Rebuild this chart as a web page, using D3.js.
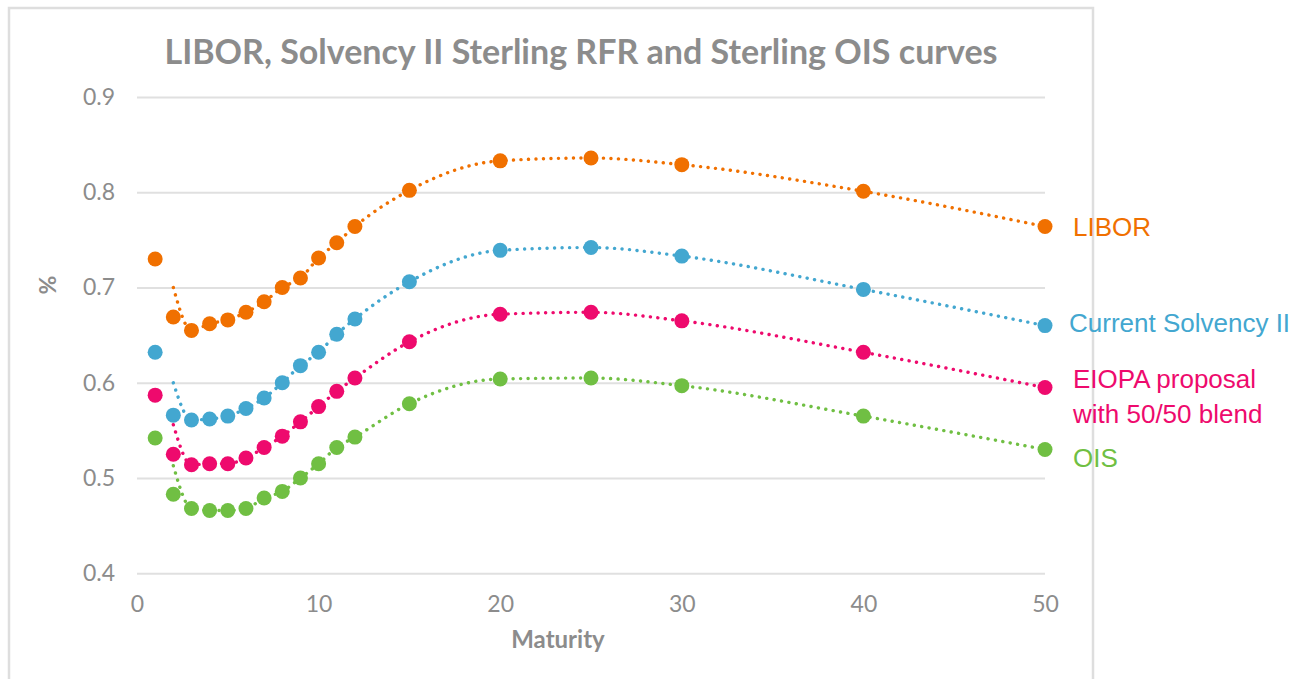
<!DOCTYPE html>
<html>
<head>
<meta charset="utf-8">
<script src="https://cdn.jsdelivr.net/npm/d3@7/dist/d3.min.js"></script>
<style>
  body { margin: 0; background: #fff; }
  svg { display: block; }
</style>
</head>
<body>
<svg id="chart"></svg>
<script>
// data
const maturities = [1, 2, 3, 4, 5, 6, 7, 8, 9, 10, 11, 12, 15, 20, 25, 30, 40, 50];
const libor    = [0.730, 0.669, 0.655, 0.662, 0.666, 0.674, 0.685, 0.700, 0.710, 0.731, 0.747, 0.764, 0.802, 0.833, 0.836, 0.829, 0.801, 0.764];
const solvency = [0.632, 0.566, 0.561, 0.562, 0.565, 0.573, 0.584, 0.600, 0.618, 0.632, 0.651, 0.667, 0.706, 0.739, 0.742, 0.733, 0.698, 0.660];
const eiopa    = [0.587, 0.525, 0.514, 0.515, 0.515, 0.521, 0.532, 0.544, 0.559, 0.575, 0.591, 0.605, 0.643, 0.672, 0.674, 0.665, 0.632, 0.595];
const ois      = [0.542, 0.483, 0.468, 0.466, 0.466, 0.468, 0.479, 0.486, 0.500, 0.515, 0.532, 0.543, 0.578, 0.604, 0.605, 0.597, 0.565, 0.530];

// the dotted smoothed curves start at 2y and don't pass through the 2y markers
const curveMaturities = [2, 3, 4, 5, 6, 7, 8, 9, 10, 11, 12, 15, 20, 25, 30, 40, 50];
const liborCurve    = [0.700, 0.655, 0.662, 0.666, 0.674, 0.685, 0.700, 0.710, 0.731, 0.747, 0.764, 0.802, 0.833, 0.836, 0.829, 0.801, 0.764];
const solvencyCurve = [0.600, 0.561, 0.562, 0.565, 0.573, 0.584, 0.600, 0.618, 0.632, 0.651, 0.667, 0.706, 0.739, 0.742, 0.733, 0.698, 0.660];
const eiopaCurve    = [0.556, 0.514, 0.515, 0.515, 0.521, 0.532, 0.544, 0.559, 0.575, 0.591, 0.605, 0.643, 0.672, 0.674, 0.665, 0.632, 0.595];
const oisCurve      = [0.513, 0.468, 0.466, 0.466, 0.468, 0.479, 0.486, 0.500, 0.515, 0.532, 0.543, 0.578, 0.604, 0.605, 0.597, 0.565, 0.530];

const seriesNames = ['LIBOR', 'Current Solvency II', 'EIOPA proposal\nwith 50/50 blend', 'OIS'];
const xTicks = [0, 10, 20, 30, 40, 50];
const yTicks = [0.4, 0.5, 0.6, 0.7, 0.8, 0.9];

const colors = ['#F07000', '#43A7D0', '#EE0A6D', '#70BF43'];
const labelDx = [28, 24, 28, 28];
const labelDy = [9, 6, 18, 18];

const W = 1311, H = 679;
const grey = '#8c8c8c';

const series = [
  { name: seriesNames[0], values: libor, curve: liborCurve },
  { name: seriesNames[1], values: solvency, curve: solvencyCurve },
  { name: seriesNames[2], values: eiopa, curve: eiopaCurve },
  { name: seriesNames[3], values: ois, curve: oisCurve },
];

const svg = d3.select('#chart').attr('width', W).attr('height', H);
svg.append('rect').attr('width', W).attr('height', H).attr('fill', '#fff');

// chart frame (bottom edge runs off the picture)
svg.append('rect')
  .attr('x', 9).attr('y', 8).attr('width', 1084).attr('height', H + 20)
  .attr('fill', 'none').attr('stroke', '#dedede').attr('stroke-width', 2.5);

const x = d3.scaleLinear().domain([0, 50]).range([137, 1045]);
const y = d3.scaleLinear().domain([0.4, 0.9]).range([573.3, 97]);

// gridlines + y labels
const yAxis = d3.axisLeft(y).tickValues(yTicks).tickSize(-(x.range()[1] - x.range()[0])).tickPadding(22)
  .tickFormat(d3.format('.1f'));
const gy = svg.append('g').attr('transform', `translate(${x.range()[0]},0)`).call(yAxis);
gy.select('.domain').remove();
gy.selectAll('.tick line').attr('stroke', '#e0e0e0').attr('stroke-width', 2);
gy.selectAll('.tick text').attr('fill', grey).attr('font-family', 'Lato, sans-serif').attr('font-size', 23);

const xAxis = d3.axisBottom(x).tickValues(xTicks).tickSize(0).tickPadding(22).tickFormat(d3.format('d'));
const gx = svg.append('g').attr('transform', `translate(0,${y.range()[0]})`).call(xAxis);
gx.select('.domain').remove();
gx.selectAll('.tick text').attr('fill', grey).attr('font-family', 'Lato, sans-serif').attr('font-size', 23);

// titles
svg.append('text')
  .attr('x', 581).attr('y', 64).attr('text-anchor', 'middle')
  .attr('font-family', 'Lato, sans-serif').attr('font-weight', 'bold').attr('font-size', 34)
  .attr('fill', grey)
  .text('LIBOR, Solvency II Sterling RFR and Sterling OIS curves');

svg.append('text')
  .attr('x', 558).attr('y', 648).attr('text-anchor', 'middle')
  .attr('font-family', 'Lato, sans-serif').attr('font-weight', 'bold').attr('font-size', 24)
  .attr('fill', grey).text('Maturity');

svg.append('text')
  .attr('transform', 'translate(56,285) rotate(-90)').attr('text-anchor', 'middle')
  .attr('font-family', 'Lato, sans-serif').attr('font-weight', 'bold').attr('font-size', 23)
  .attr('fill', grey).text('%');

// dotted smoothed curves
const line = d3.line()
  .x(d => x(d[0])).y(d => y(d[1]))
  .curve(d3.curveMonotoneX);

series.forEach((s, i) => {
  svg.append('path')
    .datum(curveMaturities.map((m, j) => [m, s.curve[j]]))
    .attr('d', line)
    .attr('fill', 'none')
    .attr('stroke', colors[i])
    .attr('stroke-width', 3.4)
    .attr('stroke-linecap', 'round')
    .attr('stroke-dasharray', '0.1 7.4');
});

// markers
series.forEach((s, i) => {
  svg.append('g').selectAll('circle')
    .data(maturities.map((m, j) => [m, s.values[j]]))
    .join('circle')
    .attr('cx', d => x(d[0])).attr('cy', d => y(d[1]))
    .attr('r', 7.5)
    .attr('fill', colors[i]);
});

// end labels
series.forEach((s, i) => {
  const last = s.values.length - 1;
  const lines = s.name.split('\n');
  const t = svg.append('text')
    .attr('x', x(maturities[last]) + labelDx[i])
    .attr('y', y(s.values[last]) + labelDy[i] - (lines.length - 1) * 17.5)
    .attr('font-family', '"Liberation Sans", Arial, sans-serif').attr('font-size', 26)
    .attr('fill', colors[i]);
  lines.forEach((l, k) => {
    t.append('tspan').attr('x', x(maturities[last]) + labelDx[i]).attr('dy', k === 0 ? 0 : 35).text(l);
  });
});
</script>
</body>
</html>
